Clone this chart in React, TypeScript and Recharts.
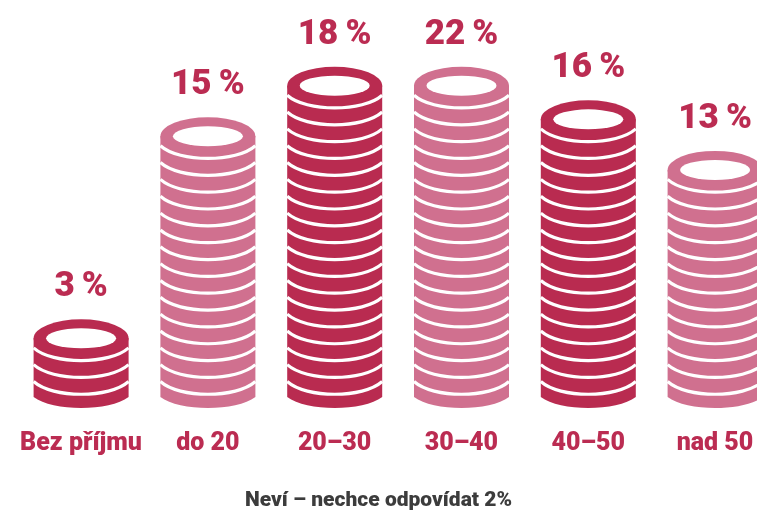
import { BarChart, Bar, XAxis, YAxis, LabelList } from "recharts";

const categories = ["Bez příjmu", "do 20", "20–30", "30–40", "40–50", "nad 50"];
// printed share in percent
const shares = [3, 15, 18, 22, 16, 13];
// number of coins actually stacked in each column (30-40 is drawn as tall as 20-30)
const coins = [3, 15, 18, 18, 16, 13];
const fills = ["#b92b50", "#d0708f", "#b92b50", "#d0708f", "#b92b50", "#d0708f"];

const data = categories.map((name, i) => ({ name, share: shares[i], coins: coins[i], fill: fills[i] }));

const TEXT = "#bb2c52";
const FONT = "Roboto, sans-serif";

// value axis starts below zero so the ring on top of a stack has room
const AXIS_MIN = -2.264;

const CoinStack = (props: any) => {
  const { x, y, width, height, index } = props;
  const count = coins[index];
  const fill = fills[index];
  const step = height / count;
  const bottom = y + height - AXIS_MIN * step;
  const rx = width / 2;
  const cx = x + rx;
  const ringY = y + 19;
  const arcs = [];
  for (let j = 0; j < count; j++) {
    const s = ringY + 9.5 + j * step;
    const c = s + 17;
    arcs.push(
      <path
        key={j}
        d={`M${x},${s} C${x + width * 0.2},${c} ${x + width * 0.8},${c} ${x + width},${s}`}
        fill="none"
        stroke="#fff"
        strokeWidth={3.2}
      />
    );
  }
  const edge = bottom - 11;
  return (
    <g>
      <path
        d={`M${x},${ringY} L${x},${edge} C${x + width * 0.2},${edge + 14.6} ${x + width * 0.8},${edge + 14.6} ${x + width},${edge} L${x + width},${ringY} Z`}
        fill={fill}
      />
      {arcs}
      <ellipse cx={cx} cy={ringY} rx={rx} ry={19} fill={fill} />
      <ellipse cx={cx} cy={ringY} rx={35} ry={10} fill="#fff" />
    </g>
  );
};

export default function App() {
  return (
    <div
      style={{
        position: "absolute",
        left: 0,
        top: 0,
        width: 757,
        height: 511,
        overflow: "hidden",
        background: "#fff",
        filter: "blur(0.5px)",
      }}
    >
      <BarChart
        width={785}
        height={511}
        data={data}
        margin={{ top: 33, right: 6.6, bottom: 0, left: 17.6 }}
        barSize={95}
      >
        <XAxis
          dataKey="name"
          height={103}
          axisLine={false}
          tickLine={false}
          interval={0}
          tickMargin={18}
          tick={{ fill: TEXT, fontSize: 25, fontWeight: 900, fontFamily: FONT }}
        />
        <YAxis hide domain={[AXIS_MIN, 20]} allowDataOverflow />
        <Bar dataKey="coins" shape={<CoinStack />} isAnimationActive={false}>
          <LabelList
            dataKey="share"
            position="top"
            offset={23}
            formatter={(v: any) => `${v}\u2009%`}
            style={{ fill: TEXT, fontSize: 35, fontWeight: 900, fontFamily: FONT }}
          />
        </Bar>
      </BarChart>
      <div
        style={{
          position: "absolute",
          left: 0,
          width: 757,
          top: 488,
          textAlign: "center",
          color: "#3c3c3c",
          fontFamily: FONT,
          fontSize: 21,
          fontWeight: 900,
          lineHeight: "22px",
        }}
      >
        Neví – nechce odpovídat 2%
      </div>
    </div>
  );
}
